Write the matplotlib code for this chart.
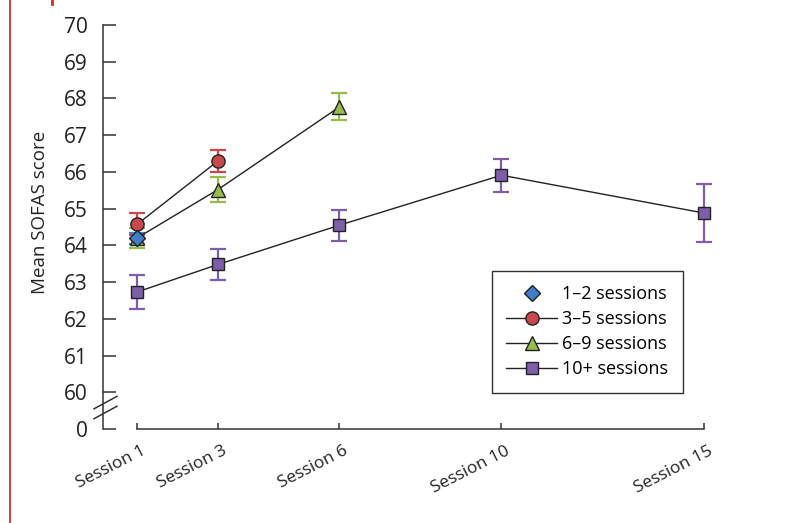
import matplotlib
matplotlib.use("Agg")
import matplotlib.pyplot as plt
from matplotlib.lines import Line2D
import matplotlib.transforms as mtransforms

plt.rcParams['font.family'] = ['Open Sans', 'DejaVu Sans']

# Session positions on the x axis
tick_sessions = [1, 3, 6, 10, 15]
tick_labels = ['Session 1', 'Session 3', 'Session 6', 'Session 10', 'Session 15']

# Mean SOFAS score and error (half-length of error bar) per group
s12_x = [1]
s12_mean = [64.20]
s12_err = [0.15]

s35_x = [1, 3]
s35_mean = [64.57, 66.30]
s35_err = [0.30, 0.30]

s69_x = [1, 3, 6]
s69_mean = [64.20, 65.52, 67.77]
s69_err = [0.27, 0.34, 0.37]

s10_x = [1, 3, 6, 10, 15]
s10_mean = [62.73, 63.48, 64.55, 65.91, 64.88]
s10_err = [0.45, 0.43, 0.42, 0.45, 0.80]

# y axis is broken: the bottom tick stands for 0
y_ticks = list(range(59, 71))
y_labels = ['0'] + [str(v) for v in range(60, 71)]

series = [
    ('1\u20132 sessions', s12_x, s12_mean, s12_err, 'D', '#3f7dc8', '#3f7dc8', 'none', 8.5),
    ('3\u20135 sessions', s35_x, s35_mean, s35_err, 'o', '#c8484b', '#c8484b', '-', 9.5),
    ('6\u20139 sessions', s69_x, s69_mean, s69_err, '^', '#95bd4c', '#95bd4c', '-', 10),
    ('10+ sessions', s10_x, s10_mean, s10_err, 's', '#7d5ea8', '#7d5ea8', '-', 9),
]

fig = plt.figure(figsize=(8.01, 5.23), dpi=100)
ax = fig.add_axes([137 / 801, 1 - 429 / 523, 567 / 801, 404 / 523])

# draw in reverse so the blue diamond sits on top at session 1
handles = {}
for name, xs, ys, errs, mk, face, ecol, ls, ms in series[::-1]:
    ax.errorbar(xs, ys, yerr=errs, fmt='none', ecolor=ecol, elinewidth=1.6,
                capsize=6, capthick=1.6, zorder=2, clip_on=False)
    h, = ax.plot(xs, ys, linestyle=ls, color='#222222', linewidth=1.0,
                 marker=mk, markersize=ms, markerfacecolor=face,
                 markeredgecolor='#222222', markeredgewidth=1.0,
                 zorder=3, clip_on=False, label=name)
    handles[name] = h

ax.set_xlim(1, 15)
ax.set_ylim(59, 70)
ax.set_xticks(tick_sessions)
ax.set_xticklabels(tick_labels, rotation=27, ha='right', va='top',
                   rotation_mode='anchor')
ax.set_yticks(y_ticks)
ax.set_yticklabels(y_labels)

for side in ['top', 'right']:
    ax.spines[side].set_visible(False)
ax.spines['left'].set_position(('outward', 34 * 0.72))
ax.spines['left'].set_color('#333333')
ax.spines['bottom'].set_color('#333333')
ax.spines['left'].set_linewidth(1.1)
ax.spines['bottom'].set_linewidth(1.1)

ax.tick_params(axis='y', direction='in', length=9.5, width=1.1, color='#333333',
               pad=11, labelsize=15, labelcolor='#222222')
ax.tick_params(axis='x', direction='in', length=4.5, width=1.1, color='#333333',
               pad=10, labelsize=12.5, labelcolor='#222222')

for lab in ax.get_xticklabels():
    lab.set_transform(lab.get_transform() +
                      mtransforms.ScaledTranslation(4 / 100, 0, fig.dpi_scale_trans))

ax.set_ylabel('Mean SOFAS score', fontsize=13.5, color='#222222')
ax.yaxis.set_label_coords(-0.155, 0.535)

# axis break slashes on the y axis
brk = mtransforms.blended_transform_factory(fig.transFigure, ax.transData)
for yb in [59.45, 59.72]:
    ax.add_line(Line2D([94 / 801, 117 / 801], [yb - 0.17, yb + 0.17], transform=brk,
                       color='#333333', linewidth=1.1, clip_on=False))

order = [s[0] for s in series]
leg = ax.legend([handles[n] for n in order], order, loc='upper left',
                bbox_to_anchor=(0.626, 0.391), borderaxespad=0, fontsize=13,
                frameon=True, fancybox=False, handlelength=2.8, handletextpad=0.3,
                labelspacing=0.38, borderpad=0.8, framealpha=1)
leg.get_frame().set_edgecolor('#333333')
leg.get_frame().set_linewidth(1.0)

# red margin rule at the left edge
fig.add_artist(Line2D([10 / 801, 10 / 801], [0, 1], color='#d9262c', linewidth=1.3))
fig.add_artist(Line2D([52 / 801, 52 / 801], [1 - 4 / 523, 1], color='#d9262c', linewidth=2))

fig.savefig('out.png', dpi=100)
